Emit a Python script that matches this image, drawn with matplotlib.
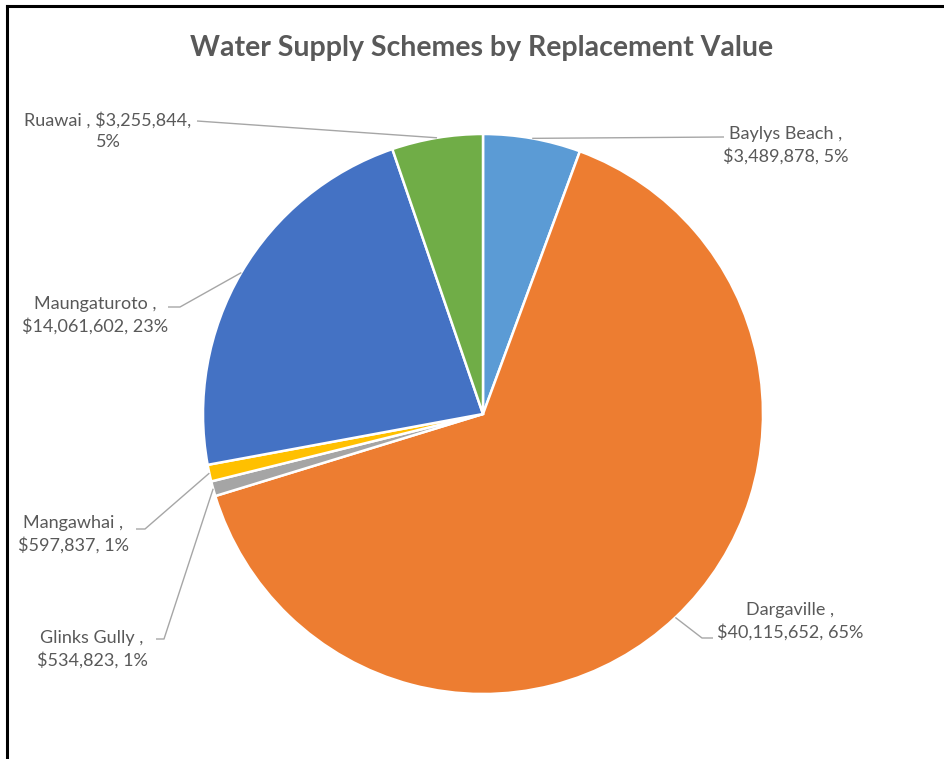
import matplotlib
matplotlib.use("Agg")
import matplotlib.pyplot as plt
import numpy as np
from matplotlib.lines import Line2D

names = ["Baylys Beach", "Dargaville", "Glinks Gully", "Mangawhai", "Maungaturoto", "Ruawai"]
values = [3489878, 40115652, 534823, 597837, 14061602, 3255844]
pct_labels = [5, 65, 1, 1, 23, 5]
colors = ["#5B9BD5", "#ED7D31", "#A5A5A5", "#FFC000", "#4472C4", "#70AD47"]
title = "Water Supply Schemes by Replacement Value"

W, H = 945, 759
fig = plt.figure(figsize=(W / 100, H / 100), dpi=100)
ax = fig.add_axes([0, 0, 1, 1])

def Y(y):
    return H - y

cx, cy, r = 483, 414, 280
wedges, _ = ax.pie(values, colors=colors, startangle=90, counterclock=False,
                   center=(cx, Y(cy)), radius=r, frame=True,
                   wedgeprops=dict(edgecolor="white", linewidth=1.8))
ax.set_xlim(0, W)
ax.set_ylim(0, H)
ax.set_aspect("auto")
ax.axis("off")

txtc = "#595959"
font = "Lato"

# label layout: (text center x, text center y, [label-side polyline points in px])
layout = {
    "Baylys Beach": (786, 145, [(724, 137)]),
    "Dargaville": (790, 621, [(713, 638), (702, 638)]),
    "Glinks Gully": (92, 649, [(156, 639), (164, 639)]),
    "Mangawhai": (73, 534, [(136, 529), (145, 529)]),
    "Maungaturoto": (95, 315, [(168, 307), (180, 307)]),
    "Ruawai": (108, 131, [(197, 121)]),
}

for w, name, v, pct in zip(wedges, names, values, pct_labels):
    money = f"${v:,}"
    if name == "Ruawai":
        label = f"{name} , {money},\n{pct}%"
    else:
        label = f"{name} ,\n{money}, {pct}%"
    tx, ty, pts = layout[name]
    ax.text(tx, Y(ty), label, ha="center", va="center", fontsize=13,
            color=txtc, family=font, linespacing=1.4)
    mid = np.deg2rad((w.theta1 + w.theta2) / 2)
    ex, ey = w.center[0] + w.r * np.cos(mid), w.center[1] + w.r * np.sin(mid)
    xs = [p[0] for p in pts] + [ex]
    ys = [Y(p[1]) for p in pts] + [ey]
    ax.plot(xs, ys, color="#A6A6A6", lw=1.0, solid_capstyle="butt")

fig.text(482 / W, 1 - 48 / H, title, ha="center", va="center", fontsize=20.5,
         fontweight="bold", color=txtc, family=font)

fig.add_artist(Line2D([7 / W, 1], [1 - 6 / H, 1 - 6 / H], color="black", lw=2.2,
                      transform=fig.transFigure))
fig.add_artist(Line2D([7 / W, 7 / W], [0, 1 - 6 / H], color="black", lw=2.2,
                      transform=fig.transFigure))

fig.savefig("out.png", dpi=100, facecolor="white")
